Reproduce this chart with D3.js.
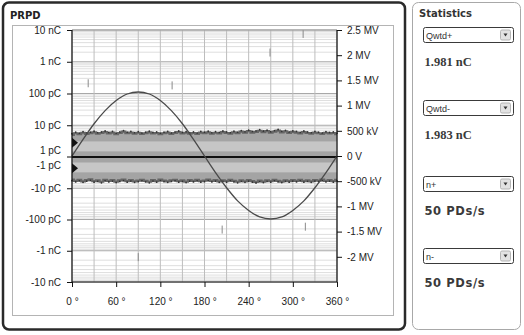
<!DOCTYPE html>
<html>
<head>
<meta charset="utf-8">
<script src="https://cdn.jsdelivr.net/npm/d3@7"></script>
<style>
  body { margin: 0; background: #fff; }
  svg { display: block; font-family: "Liberation Sans", Arial, sans-serif; }
</style>
</head>
<body>
<div id="chart"></div>
<script>
// phase axis (degrees)
const phaseTicks = [0, 60, 120, 180, 240, 300, 360];
const phaseGrid = [0, 30, 60, 90, 120, 150, 180, 210, 240, 270, 300, 330, 360];

// charge axis (pC), symmetric log
const chargeDecades = [10, 100, 1000, 10000];
const chargeLabelsPos = ["10 pC", "100 pC", "1 nC", "10 nC"];
const chargeLabelsNeg = ["-10 pC", "-100 pC", "-1 nC", "-10 nC"];

// voltage axis (MV)
const voltTicks = [2.5, 2, 1.5, 1, 0.5, 0, -0.5, -1, -1.5, -2];
const voltLabels = ["2.5 MV", "2 MV", "1.5 MV", "1 MV", "500 kV", "0 V", "-500 kV", "-1 MV", "-1.5 MV", "-2 MV"];

// test voltage
const wavePhase = [0, 15, 30, 45, 60, 75, 90, 105, 120, 135, 150, 165, 180, 195, 210, 225, 240, 255, 270, 285, 300, 315, 330, 345, 360];
const waveVolt = [0, 0.33, 0.64, 0.9, 1.1, 1.23, 1.27, 1.23, 1.1, 0.9, 0.64, 0.33, 0, -0.33, -0.63, -0.89, -1.08, -1.21, -1.25, -1.21, -1.08, -0.89, -0.63, -0.33, 0];

// noise band edges every 5 deg (pC)
const posEdge = [5.0, 5.6, 5.2, 5.8, 5.3, 5.6, 6.0, 5.4, 5.7, 6.1, 5.5, 5.9, 5.2, 5.7, 6.3, 5.6, 5.9, 5.4, 5.8, 5.3,
  5.6, 6.0, 5.5, 5.7, 5.2, 5.6, 5.9, 5.3, 5.7, 6.1, 5.5, 5.8, 5.4, 5.7, 5.3, 5.9, 5.6, 6.0, 5.4, 5.8,
  5.5, 6.1, 5.7, 5.4, 6.0, 5.6, 6.3, 5.8, 6.5, 5.9, 6.2, 6.7, 6.1, 6.5, 5.8, 6.3, 6.8, 6.0, 6.4, 5.7,
  6.2, 5.9, 5.5, 6.1, 5.7, 5.4, 5.9, 5.6, 5.3, 5.8, 5.5, 5.7, 5.2];
const negEdge = [5.3, 5.8, 5.4, 6.0, 5.5, 5.2, 5.9, 5.6, 6.2, 5.4, 5.8, 5.5, 6.1, 5.6, 5.3, 5.9, 5.5, 6.0, 5.7, 5.4,
  5.8, 6.2, 5.5, 5.9, 5.3, 5.7, 6.0, 5.6, 5.4, 5.9, 5.6, 6.1, 5.5, 5.8, 5.4, 5.9, 5.7, 5.3, 5.8, 5.5,
  6.0, 5.6, 5.9, 5.4, 5.8, 6.2, 5.6, 6.0, 5.5, 5.9, 6.3, 5.7, 6.1, 5.6, 5.9, 5.4, 5.8, 6.1, 5.6, 5.9,
  5.5, 5.8, 5.4, 5.9, 5.6, 6.0, 5.5, 5.7, 5.3, 5.8, 5.5, 5.9, 5.4];
const coreBand = [1.5, 3.1];
const thresholds = [2.8, -2.3];

// single pulses [phase, charge pC]
const pulses = [[22, 210], [136, 180], [269, 1950], [314, 7500], [90, -1600], [204, -210], [317, -170]];

// statistics panel
const statLabels = ["Qwtd+", "Qwtd-", "n+", "n-"];
const statValues = ["1.981 nC", "1.983 nC", "50 PDs/s", "50 PDs/s"];

const W = 524, H = 335;
const pLeft = 72, pRight = 337, pTop = 30, pBottom = 282, pMid = 157;

const svg = d3.select("#chart").append("svg")
  .attr("width", W).attr("height", H);

// panels
svg.append("rect").attr("x", 3).attr("y", 2.5).attr("width", 402).attr("height", 327)
  .attr("rx", 6).attr("fill", "#fff").attr("stroke", "#2a2a2a").attr("stroke-width", 2.5);
svg.append("rect").attr("x", 12.5).attr("y", 25.5).attr("width", 381).attr("height", 290)
  .attr("fill", "#fff").attr("stroke", "#b4b4b4");
svg.append("text").attr("x", 10).attr("y", 19).text("PRPD")
  .attr("font-size", 10).attr("font-weight", "bold").attr("fill", "#222")
  .attr("font-family", "'DejaVu Sans', sans-serif");

svg.append("rect").attr("x", 412.5).attr("y", 2.5).attr("width", 108).attr("height", 327)
  .attr("rx", 6).attr("fill", "#fff").attr("stroke", "#a8a8a8");
svg.append("text").attr("x", 419).attr("y", 17).text("Statistics")
  .attr("font-size", 10).attr("font-weight", "bold").attr("fill", "#333")
  .attr("font-family", "'DejaVu Sans', sans-serif");

// scales
const x = d3.scaleLinear().domain([0, 360]).range([pLeft, pRight]);
const yPos = d3.scaleLog().domain([1, 10000]).range([pMid, pTop]);
const yNeg = d3.scaleLog().domain([1, 10000]).range([pMid, pBottom]);
const yQ = q => q >= 0 ? yPos(Math.max(q, 1)) : yNeg(Math.max(-q, 1));
const yV = d3.scaleLinear().domain([-2.5, 2.5]).range([pBottom, pTop]);

const plot = svg.append("g");

// minor log grid
const minor = [];
chargeDecades.forEach(d => { for (let k = 2; k <= 9; k++) minor.push(d / 10 * k); });
plot.selectAll(".minor").data(minor.concat(minor.map(v => -v))).join("line")
  .attr("x1", pLeft).attr("x2", pRight)
  .attr("y1", d => yQ(d)).attr("y2", d => yQ(d))
  .attr("stroke", "#dedede").attr("stroke-width", 1);

plot.selectAll(".major").data(chargeDecades.concat(chargeDecades.map(v => -v))).join("line")
  .attr("x1", pLeft).attr("x2", pRight)
  .attr("y1", d => yQ(d)).attr("y2", d => yQ(d))
  .attr("stroke", "#a8a8a8").attr("stroke-width", 1);

plot.selectAll(".vgrid").data(phaseGrid).join("line")
  .attr("x1", d => x(d)).attr("x2", d => x(d))
  .attr("y1", pTop).attr("y2", pBottom)
  .attr("stroke", "#bdbdbd").attr("stroke-width", 1);

// noise band
const bandPhase = d3.range(0, 361, 5);
const posArea = d3.area().curve(d3.curveStep)
  .x((d, i) => x(bandPhase[i])).y0(yQ(1)).y1(d => yQ(d));
const negArea = d3.area().curve(d3.curveStep)
  .x((d, i) => x(bandPhase[i])).y0(yQ(-1)).y1(d => yQ(-d));

plot.append("path").datum(posEdge).attr("d", posArea).attr("fill", "#a4a4a4");
plot.append("path").datum(negEdge).attr("d", negArea).attr("fill", "#a4a4a4");

plot.append("rect").attr("x", x(0)).attr("width", x(360) - x(0))
  .attr("y", yQ(coreBand[1])).attr("height", yQ(coreBand[0]) - yQ(coreBand[1]))
  .attr("fill", "#c6c6c6");
plot.append("rect").attr("x", x(0)).attr("width", x(360) - x(0))
  .attr("y", yQ(-coreBand[0])).attr("height", yQ(-coreBand[1]) - yQ(-coreBand[0]))
  .attr("fill", "#c6c6c6");

const posLine = d3.line().curve(d3.curveStep).x((d, i) => x(bandPhase[i])).y(d => yQ(d));
const negLine = d3.line().curve(d3.curveStep).x((d, i) => x(bandPhase[i])).y(d => yQ(-d));
plot.append("path").datum(posEdge).attr("d", posLine)
  .attr("fill", "none").attr("stroke", "#666").attr("stroke-width", 2.2);
plot.append("path").datum(negEdge).attr("d", negLine)
  .attr("fill", "none").attr("stroke", "#666").attr("stroke-width", 2.2);

plot.selectAll(".pdot").data(posEdge).join("circle")
  .attr("cx", (d, i) => x(bandPhase[i])).attr("cy", d => yQ(d * 1.08))
  .attr("r", 0.9).attr("fill", "#333");
plot.selectAll(".ndot").data(negEdge).join("circle")
  .attr("cx", (d, i) => x(bandPhase[i])).attr("cy", d => yQ(-d * 1.08))
  .attr("r", 0.9).attr("fill", "#333");

// zero line
plot.append("line").attr("x1", pLeft).attr("x2", pRight)
  .attr("y1", yQ(1)).attr("y2", yQ(1))
  .attr("stroke", "#111").attr("stroke-width", 2);

// single pulses
plot.selectAll(".pulse").data(pulses).join("line")
  .attr("x1", d => x(d[0])).attr("x2", d => x(d[0]))
  .attr("y1", d => yQ(d[1]) - 4).attr("y2", d => yQ(d[1]) + 4)
  .attr("stroke", "#8a8a8a").attr("stroke-width", 1);

// voltage
const wave = d3.line().curve(d3.curveMonotoneX)
  .x((d, i) => x(wavePhase[i])).y(d => yV(d));
plot.append("path").datum(waveVolt).attr("d", wave)
  .attr("fill", "none").attr("stroke", "#4a4a4a").attr("stroke-width", 1.3);

// threshold markers
plot.selectAll(".thr").data(thresholds).join("path")
  .attr("d", d => {
    const yy = yQ(d);
    return `M${pLeft},${yy - 5}L${pLeft + 6},${yy}L${pLeft},${yy + 5}Z`;
  })
  .attr("fill", "#111");

// axes
const axisStyle = g => {
  g.select(".domain").remove();
  g.selectAll("line").attr("stroke", "#111");
  g.selectAll("text").attr("font-size", 10).attr("fill", "#222")
    .attr("font-family", "'Liberation Sans', Arial, sans-serif");
};

svg.append("g").attr("transform", `translate(${pLeft},0)`)
  .call(d3.axisLeft(yPos).tickValues(chargeDecades).tickSize(5).tickPadding(6)
    .tickFormat((d, i) => chargeLabelsPos[i]))
  .call(axisStyle);
svg.append("g").attr("transform", `translate(${pLeft},0)`)
  .call(d3.axisLeft(yNeg).tickValues(chargeDecades).tickSize(5).tickPadding(6)
    .tickFormat((d, i) => chargeLabelsNeg[i]))
  .call(axisStyle);
// centre tick shared by +1 pC / -1 pC
svg.append("line").attr("x1", pLeft - 5).attr("x2", pLeft)
  .attr("y1", pMid).attr("y2", pMid).attr("stroke", "#111");
svg.append("text").attr("x", pLeft - 11).attr("y", pMid - 3.5).attr("text-anchor", "end")
  .attr("font-size", 10).attr("fill", "#222").text("1 pC");
svg.append("text").attr("x", pLeft - 11).attr("y", pMid + 11.5).attr("text-anchor", "end")
  .attr("font-size", 10).attr("fill", "#222").text("-1 pC");

svg.append("g").attr("transform", `translate(${pRight},0)`)
  .call(d3.axisRight(yV).tickValues(voltTicks).tickSize(5).tickPadding(5)
    .tickFormat((d, i) => voltLabels[i]))
  .call(axisStyle);

svg.append("g").attr("transform", `translate(0,${pBottom})`)
  .call(d3.axisBottom(x).tickValues(phaseTicks).tickSize(5).tickPadding(11)
    .tickFormat(d => d + " °"))
  .call(axisStyle);

// frame
svg.append("line").attr("x1", pLeft).attr("x2", pRight).attr("y1", pTop).attr("y2", pTop)
  .attr("stroke", "#9a9a9a");
svg.append("line").attr("x1", pLeft).attr("x2", pLeft).attr("y1", pTop).attr("y2", pBottom)
  .attr("stroke", "#111").attr("stroke-width", 1.2);
svg.append("line").attr("x1", pRight).attr("x2", pRight).attr("y1", pTop).attr("y2", pBottom)
  .attr("stroke", "#111").attr("stroke-width", 1.2);
svg.append("line").attr("x1", pLeft).attr("x2", pRight).attr("y1", pBottom).attr("y2", pBottom)
  .attr("stroke", "#111").attr("stroke-width", 1.2);

// statistics selectors
const statTop = [27, 100, 176, 248];
const stat = svg.selectAll(".stat").data(statLabels).join("g")
  .attr("transform", (d, i) => `translate(423,${statTop[i]})`);
stat.append("rect").attr("x", 0.5).attr("y", 0.5).attr("width", 90).attr("height", 15)
  .attr("rx", 2).attr("fill", "#fff").attr("stroke", "#3a3a3a");
stat.append("rect").attr("x", 77.5).attr("y", 3).attr("width", 10).attr("height", 10)
  .attr("rx", 1.5).attr("fill", "#e2e2e2").attr("stroke", "#b5b5b5");
stat.append("path").attr("d", "M80.5,6.5L84.5,6.5L82.5,9.5Z").attr("fill", "#333");
stat.append("text").attr("x", 3).attr("y", 11.5).text(d => d)
  .attr("font-size", 9).attr("fill", "#333");
stat.append("text").attr("x", 1.5).attr("y", 39).text((d, i) => statValues[i])
  .attr("font-weight", "bold").attr("fill", "#3a3a3a")
  .each(function (d, i) {
    const isRate = statValues[i].includes("PDs");
    d3.select(this)
      .attr("font-family", isRate ? "'DejaVu Sans', sans-serif" : "'Liberation Serif', serif")
      .attr("font-size", isRate ? 11.5 : 12.5)
      .attr("letter-spacing", isRate ? 0.6 : 0);
  });
</script>
</body>
</html>
